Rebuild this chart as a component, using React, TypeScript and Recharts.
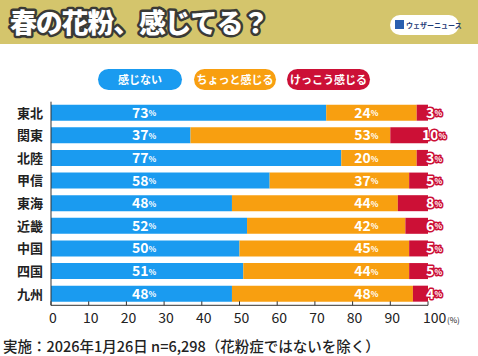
import React from 'react';
import { BarChart, Bar, XAxis, YAxis, LabelList } from 'recharts';

const regions = ['東北', '関東', '北陸', '甲信', '東海', '近畿', '中国', '四国', '九州'];
const notFeel = [73, 37, 77, 58, 48, 52, 50, 51, 48];
const littleFeel = [24, 53, 20, 37, 44, 42, 45, 44, 48];
const muchFeel = [3, 10, 3, 5, 8, 6, 5, 5, 4];
const xTicks = [0, 10, 20, 30, 40, 50, 60, 70, 80, 90, 100];
const seriesNames = ['感じない', 'ちょっと感じる', 'けっこう感じる'];
const titleText = '春の花粉、感じてる？';
const brandText = 'ウェザーニュース';
const sourceText = '実施：2026年1月26日 n=6,298（花粉症ではないを除く）';

const data = regions.map((r, i) => ({
  region: r,
  notFeel: notFeel[i],
  littleFeel: littleFeel[i],
  muchFeel: muchFeel[i],
}));

const W = 478;
const H = 356;
const PLOT_LEFT = 51;
const PLOT_RIGHT = 428;
const PLOT_TOP = 101.7;
const PLOT_BOTTOM = 305.3;
const PLOT_W = PLOT_RIGHT - PLOT_LEFT;

const BLUE = '#1a9bf0';
const ORANGE = '#f89f10';
const RED = '#cc1036';
const colors = [BLUE, ORANGE, RED];
const FONT = '"Noto Sans CJK JP", "Noto Sans", sans-serif';

const labelCenters = [
  PLOT_LEFT + 0.247 * PLOT_W,
  PLOT_LEFT + 0.836 * PLOT_W,
  PLOT_RIGHT + 6,
];

const makeLabel = (k: number) => (props: any) => {
  const { y, height, value } = props;
  const s = String(value);
  const numW = s.length * 8;
  const pctW = 8;
  const startX = labelCenters[k] - (numW + pctW) / 2;
  const cy = Number(y) + Number(height) / 2;
  const common = {
    fill: '#fff',
    stroke: colors[k],
    strokeWidth: k === 2 ? 3 : 1.5,
    strokeLinejoin: 'round' as const,
    paintOrder: 'stroke',
    fontFamily: FONT,
    fontWeight: 700,
  };
  return (
    <g>
      <text x={startX} y={cy} dy="0.36em" textAnchor="start" fontSize={14} {...common}>
        {s}
      </text>
      <text x={startX + numW + 0.5} y={cy} dy="0.45em" textAnchor="start" fontSize={8} {...common}>
        %
      </text>
    </g>
  );
};

const XTick = (props: any) => {
  const { x, y, payload } = props;
  const v = payload.value;
  return (
    <g>
      <line x1={x} x2={x} y1={y - 4} y2={y} stroke="#333" strokeWidth={1} />
      {v === 100 ? (
        <g>
          <text x={x - 5} y={y + 18} textAnchor="start" fill="#222" fontFamily={FONT} fontSize={14}>
            {v}
          </text>
          <text x={x + 19} y={y + 18} textAnchor="start" fill="#222" fontFamily={FONT} fontSize={8}>
            (%)
          </text>
        </g>
      ) : (
        <text x={x + 2} y={y + 18} textAnchor="middle" fill="#222" fontFamily={FONT} fontSize={14}>
          {v}
        </text>
      )}
    </g>
  );
};

const legendBoxes = [
  { left: 98, width: 84 },
  { left: 194, width: 82 },
  { left: 287, width: 83 },
];

export default function App() {
  return (
    <div style={{ position: 'absolute', left: 0, top: 0, width: W, height: H, background: '#fff', overflow: 'hidden', fontFamily: FONT }}>
      <div style={{ position: 'absolute', left: 0, top: 0 }}>
        <BarChart
          width={W}
          height={H}
          data={data}
          layout="vertical"
          margin={{ top: PLOT_TOP, right: W - PLOT_RIGHT, bottom: 0, left: 0 }}
          barSize={16}
        >
          <XAxis
            type="number"
            domain={[0, 100]}
            ticks={xTicks}
            height={H - PLOT_BOTTOM}
            axisLine={{ stroke: '#333' }}
            tickLine={false}
            tickSize={0}
            tickMargin={0}
            tick={<XTick />}
            interval={0}
          />
          <YAxis
            type="category"
            dataKey="region"
            width={PLOT_LEFT}
            axisLine={{ stroke: '#333' }}
            tickLine={false}
            tick={{ fill: '#222', fontSize: 13, fontWeight: 700, fontFamily: FONT }}
            interval={0}
          />
          <Bar dataKey="notFeel" stackId="a" fill={BLUE} isAnimationActive={false}>
            <LabelList dataKey="notFeel" content={makeLabel(0)} />
          </Bar>
          <Bar dataKey="littleFeel" stackId="a" fill={ORANGE} isAnimationActive={false}>
            <LabelList dataKey="littleFeel" content={makeLabel(1)} />
          </Bar>
          <Bar dataKey="muchFeel" stackId="a" fill={RED} isAnimationActive={false}>
            <LabelList dataKey="muchFeel" content={makeLabel(2)} />
          </Bar>
        </BarChart>
      </div>

      {/* header */}
      <svg style={{ position: 'absolute', left: 0, top: 0 }} width={W} height={44}>
        <rect x={0} y={0} width={W} height={44} fill="#d4c56c" />
        <text
          x={10}
          y={33}
          fill="#fff"
          stroke="#3a3a36"
          strokeWidth={5}
          strokeLinejoin="round"
          paintOrder="stroke"
          fontFamily={FONT}
          fontWeight={900}
          fontSize={27}
          letterSpacing={-1.2}
        >
          {titleText}
        </text>
        <rect x={390} y={15} width={69} height={20} rx={10} fill="#fff" />
        <rect x={395} y={20} width={9} height={9} fill="#2a5fb0" />
        <text x={406} y={28} fill="#1f3c78" fontFamily={FONT} fontSize={7} fontWeight={700}>
          {brandText}
        </text>
      </svg>

      {/* legend */}
      {seriesNames.map((name, i) => (
        <div
          key={name}
          style={{
            position: 'absolute',
            left: legendBoxes[i].left,
            top: 69,
            width: legendBoxes[i].width,
            height: 21,
            borderRadius: 11,
            background: colors[i],
            color: '#fff',
            fontSize: 11,
            fontWeight: 700,
            lineHeight: '21px',
            textAlign: 'center',
          }}
        >
          {name}
        </div>
      ))}

      {/* source */}
      <div style={{ position: 'absolute', left: 3, top: 336, fontSize: 14.5, fontWeight: 500, color: '#222', whiteSpace: 'nowrap', lineHeight: '20px' }}>
        {sourceText}
      </div>
    </div>
  );
}
